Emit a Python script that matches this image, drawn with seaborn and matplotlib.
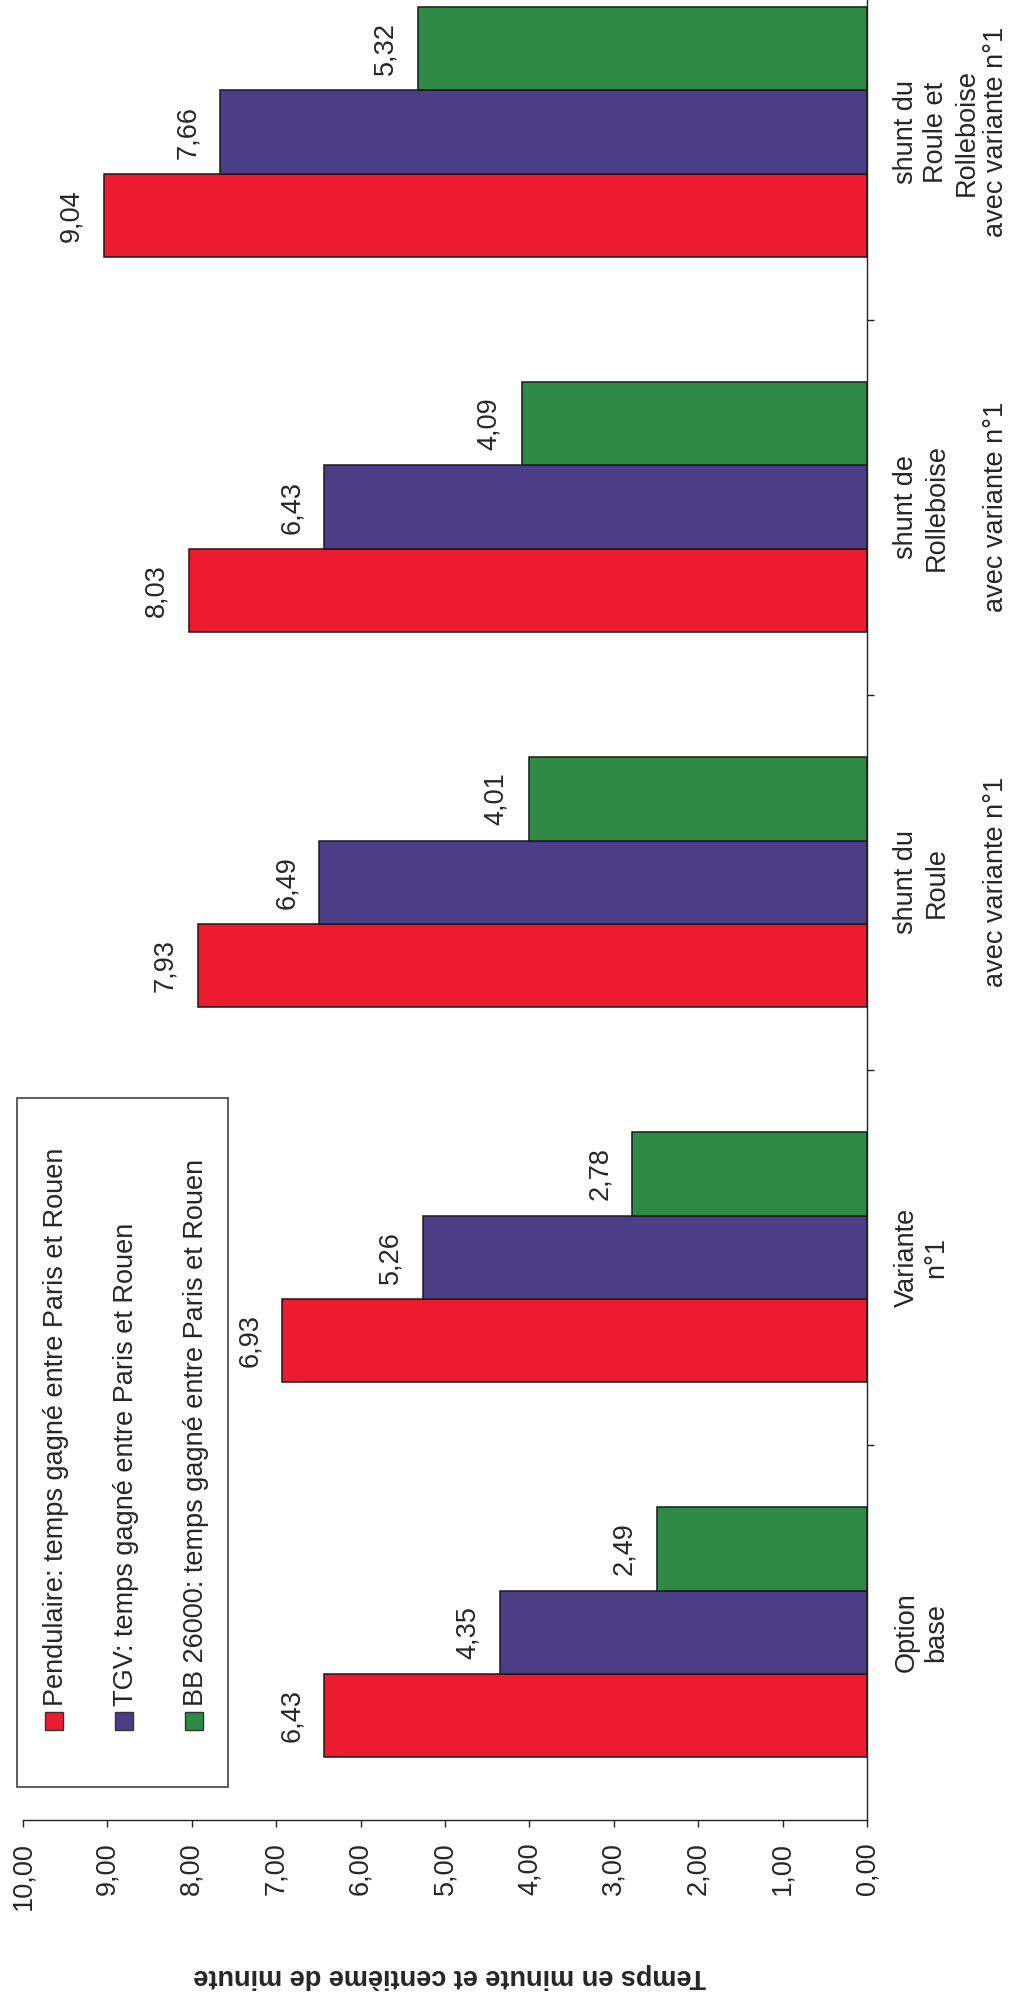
import matplotlib
matplotlib.use("Agg")
import matplotlib.pyplot as plt
from matplotlib.patches import Rectangle
import seaborn as sns
import pandas as pd
import numpy as np

# ---------------- data ----------------
options = [
    "Option\nbase",
    "Variante\nn°1",
    "shunt du\nRoule\n\navec variante n°1",
    "shunt de\nRolleboise\n\navec variante n°1",
    "shunt du\nRoule et\nRolleboise\navec variante n°1",
]
series_names = [
    "Pendulaire: temps gagné entre Paris et Rouen",
    "TGV: temps gagné entre Paris et Rouen",
    "BB 26000: temps gagné entre Paris et Rouen",
]
pendulaire = [6.43, 6.93, 7.93, 8.03, 9.04]
tgv = [4.35, 5.26, 6.49, 6.43, 7.66]
bb26000 = [2.49, 2.78, 4.01, 4.09, 5.32]
value_ticks = [0, 1, 2, 3, 4, 5, 6, 7, 8, 9, 10]
value_tick_labels = ["0,00", "1,00", "2,00", "3,00", "4,00", "5,00",
                     "6,00", "7,00", "8,00", "9,00", "10,00"]
axis_title = "Temps en minute et centième de minute"

colors = ["#EC1B30", "#4B3E86", "#2E8A45"]

df = pd.DataFrame({
    "option": options * 3,
    "serie": [series_names[0]] * 5 + [series_names[1]] * 5 + [series_names[2]] * 5,
    "valeur": pendulaire + tgv + bb26000,
})

# ---------------- style ----------------
sns.set_style("white")
plt.rcParams["font.family"] = ["Liberation Sans", "DejaVu Sans"]
FS = 19.5

W, H = 1021, 1992
fig = plt.figure(figsize=(W / 100, H / 100), dpi=100)

def fx(px):
    return px / W

def fy(py):
    return 1 - py / H

# axes: value 10 at x=23px, value 0 at x=867px ; category -0.5 at y=1820px, 4.5 at y=-55.5px
ax = fig.add_axes([fx(23), fy(1820), fx(867) - fx(23), fy(-55.5) - fy(1820)])

sns.barplot(
    data=df, x="valeur", y="option", hue="serie", order=options,
    hue_order=series_names, orient="h", palette=colors, saturation=1,
    width=2 / 3, edgecolor="#1a1a1a", linewidth=1.1, errorbar=None,
    legend=False, ax=ax,
)

ax.set_xlim(10, 0)
ax.set_ylim(-0.5, len(options) - 0.5)

# value axis (bottom)
ax.set_xticks(value_ticks)
ax.set_xticklabels(value_tick_labels, rotation=90, fontsize=FS, va="top", ha="center")
ax.tick_params(axis="x", direction="out", length=5, width=1, color="#222222",
               pad=11, bottom=True)

# category axis (right)
ax.yaxis.tick_right()
ax.set_yticks(range(len(options)))
ax.set_yticklabels(options, rotation=90, fontsize=FS, ha="left", va="center",
                   multialignment="center")
ax.tick_params(axis="y", which="major", length=0, pad=19, right=True, left=False)
ax.set_yticks(np.arange(0.5, len(options) - 0.5, 1.0), minor=True)
ax.tick_params(axis="y", which="minor", direction="out", length=5, width=1,
               color="#222222", right=True, left=False)

ax.set_xlabel("")
ax.set_ylabel("")
for side in ["top", "left"]:
    ax.spines[side].set_visible(False)
for side in ["bottom", "right"]:
    ax.spines[side].set_color("#222222")
    ax.spines[side].set_linewidth(1.0)
ax.grid(False)

# value labels
for cont in ax.containers:
    ax.bar_label(cont, fmt=lambda v: f"{v:.2f}".replace(".", ","),
                 padding=14, rotation=90, fontsize=FS)

# axis title (upside down at the bottom)
fig.text(fx(450), fy(1976), axis_title, rotation=180, fontsize=FS,
         fontweight="bold", ha="center", va="center")

# legend drawn manually (rotated)
fig.add_artist(Rectangle((fx(17), fy(1787)), fx(228) - fx(17), fy(1098) - fy(1787),
                         transform=fig.transFigure, facecolor="white",
                         edgecolor="#333333", linewidth=1.1))
sq = 18
base_x = [63, 133, 203]
for name, col, bx in zip(series_names, colors, base_x):
    fig.add_artist(Rectangle((fx(bx - sq), fy(1730)), fx(sq), fy(1712) - fy(1730),
                             transform=fig.transFigure, facecolor=col,
                             edgecolor="#333333", linewidth=1.0))
    fig.text(fx(bx), fy(1706), name, rotation=90, rotation_mode="anchor",
             fontsize=FS, ha="left", va="baseline")

fig.savefig("out.png", dpi=100)
